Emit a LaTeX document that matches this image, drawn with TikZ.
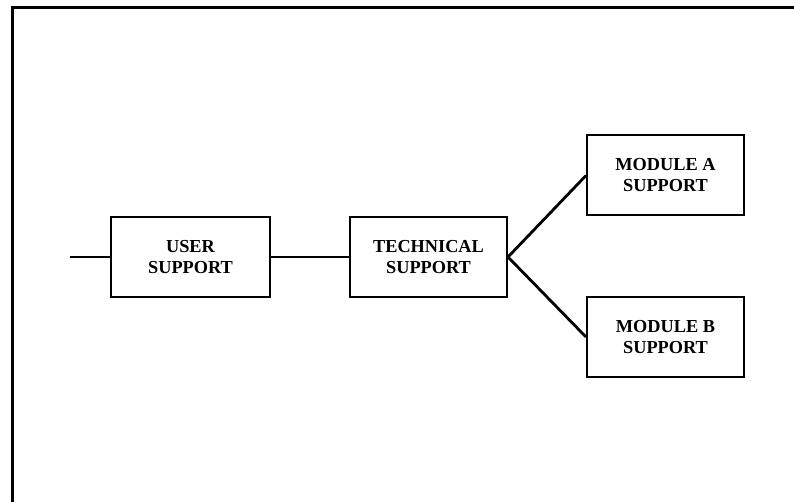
\documentclass[tikz,border=0pt]{standalone}
\usepackage{fontspec}
\setmainfont{Liberation Serif}
\begin{document}
\begin{tikzpicture}[x=1pt,y=-1pt,
  blk/.style={draw, line width=2pt, rectangle, minimum width=157pt, minimum height=80pt,
    inner sep=0pt, align=center, font=\fontsize{18.3}{21}\selectfont\bfseries},
  link/.style={line width=2.8pt}]
\useasboundingbox (0,0) rectangle (794,502);
% outer frame, running off the right and bottom edges
\draw[line width=3pt] (12.5,502) -- (12.5,8) -- (794,8);
% blocks
\node[blk, minimum width=159pt] (user) at (190.5,257) {USER\\SUPPORT};
\node[blk] (tech) at (428.5,257) {TECHNICAL\\SUPPORT};
\node[blk] (moda) at (665.5,175.5) {MODULE A\\SUPPORT};
\node[blk] (modb) at (665.5,337) {MODULE B\\SUPPORT};
\coordinate (in) at (70,257);
% connectors
\draw[link] (in) -- (user.west);
\draw[link] (user.east) -- (tech.west);
\draw[link] (tech.east) -- (moda.west);
\draw[link] (tech.east) -- (modb.west);
\end{tikzpicture}
\end{document}
